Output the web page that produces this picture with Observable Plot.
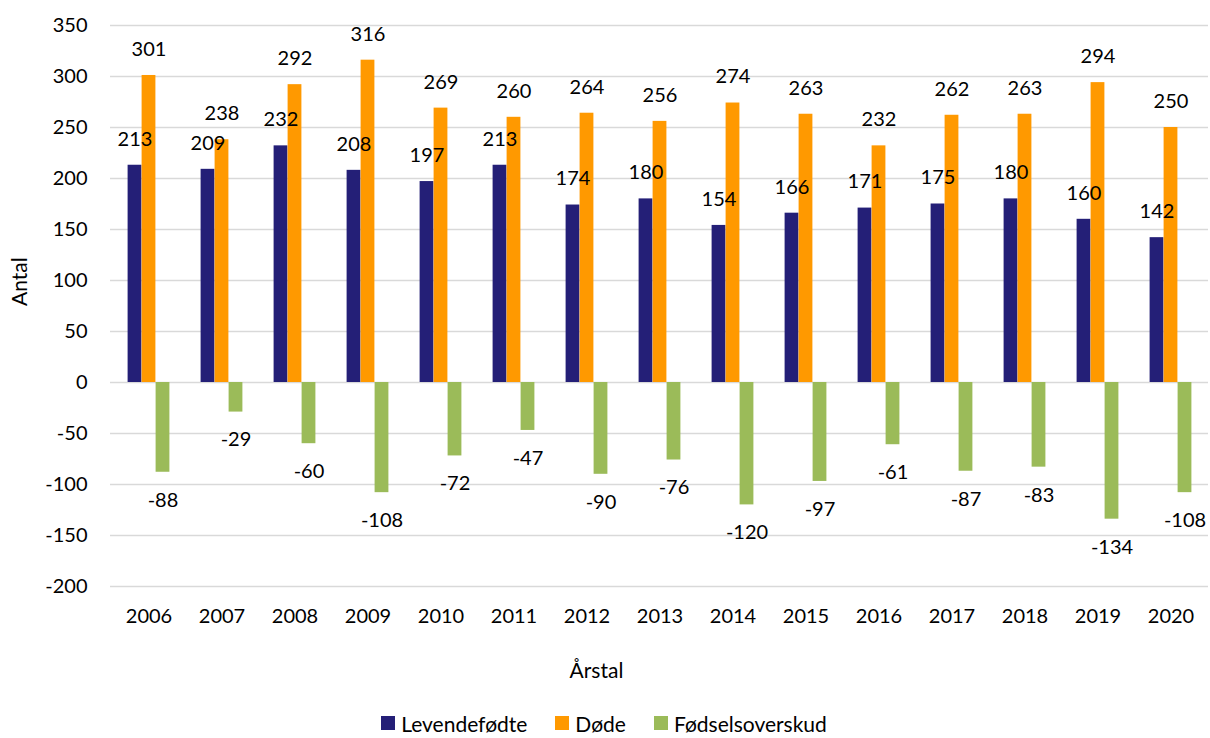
<!DOCTYPE html>
<html>
<head>
<meta charset="utf-8">
<script src="https://cdn.jsdelivr.net/npm/d3@7"></script>
<script src="https://cdn.jsdelivr.net/npm/@observablehq/plot@0.6"></script>
<style>
  body { margin: 0; background: #fff; font-family: Lato, "Open Sans", sans-serif; }
  #legend { display: flex; justify-content: center; align-items: center; height: 38px; padding-top: 8px; box-sizing: border-box; font-size: 21px; color: #000; padding-right: 2px; }
  #legend .item { display: flex; align-items: center; margin: 0 14px; }
  #legend .sw { width: 14px; height: 14px; margin-right: 6px; }
</style>
</head>
<body>
<div id="chart"></div>
<div id="legend"></div>
<script>
const years = ["2006","2007","2008","2009","2010","2011","2012","2013","2014","2015","2016","2017","2018","2019","2020"];
const seriesNames = ["Levendefødte", "Døde", "Fødselsoverskud"];
const levendefodte = [213,209,232,208,197,213,174,180,154,166,171,175,180,160,142];
const dode = [301,238,292,316,269,260,264,256,274,263,232,262,263,294,250];
const fodselsoverskud = [-88,-29,-60,-108,-72,-47,-90,-76,-120,-97,-61,-87,-83,-134,-108];
const yTicks = [-200,-150,-100,-50,0,50,100,150,200,250,300,350];
const colors = ["#241F77", "#FF9900", "#9BBB59"];

const seriesValues = [levendefodte, dode, fodselsoverskud];
const offsets = [-14, 0, 14];

const barMarks = [];
const labelMarks = [];
seriesValues.forEach((vals, i) => {
  const rows = years.map((y, j) => ({year: y, value: vals[j]}));
  barMarks.push(Plot.barY(rows, {
    x: "year", y: "value", fill: colors[i],
    insetLeft: 29.6, insetRight: 29.6, dx: offsets[i]
  }));
  const pos = rows.filter(d => d.value >= 0);
  const neg = rows.filter(d => d.value < 0);
  labelMarks.push(Plot.text(pos, {x: "year", y: "value", text: d => String(d.value), dx: offsets[i], dy: -26, fill: "#000", fontSize: 20}));
  labelMarks.push(Plot.text(neg, {x: "year", y: "value", text: d => String(d.value), dx: offsets[i], dy: 28, fill: "#000", fontSize: 20}));
});

const plot = Plot.plot({
  width: 1210,
  height: 700,
  marginLeft: 110,
  marginRight: 2,
  marginTop: 25,
  marginBottom: 114,
  style: {fontFamily: "Lato, 'Open Sans', sans-serif", fontSize: "20px", color: "#000", background: "#fff"},
  x: {type: "band", domain: years, padding: 0, label: null},
  y: {domain: [-200, 350], label: null},
  marks: [
    Plot.ruleY(yTicks, {stroke: "#d9d9d9", strokeWidth: 1.5}),
    ...barMarks,
    ...labelMarks,
    Plot.axisY({ticks: yTicks, tickSize: 0, tickPadding: 23, tickFormat: d => String(d), fontSize: 20, label: null}),
    Plot.axisX({tickSize: 0, tickPadding: 22, fontSize: 20, label: null}),
    Plot.text(["Antal"], {frameAnchor: "left", dx: -90, rotate: -90, fontSize: 21, fill: "#000"}),
    Plot.text(["Årstal"], {frameAnchor: "bottom", dy: 91, dx: -63, fontSize: 21, fill: "#000"})
  ]
});
document.getElementById("chart").appendChild(plot);

const legend = document.getElementById("legend");
seriesNames.forEach((name, i) => {
  const item = document.createElement("div");
  item.className = "item";
  const sw = document.createElement("div");
  sw.className = "sw";
  sw.style.background = colors[i];
  const label = document.createElement("span");
  label.textContent = name;
  item.appendChild(sw);
  item.appendChild(label);
  legend.appendChild(item);
});
</script>
</body>
</html>
